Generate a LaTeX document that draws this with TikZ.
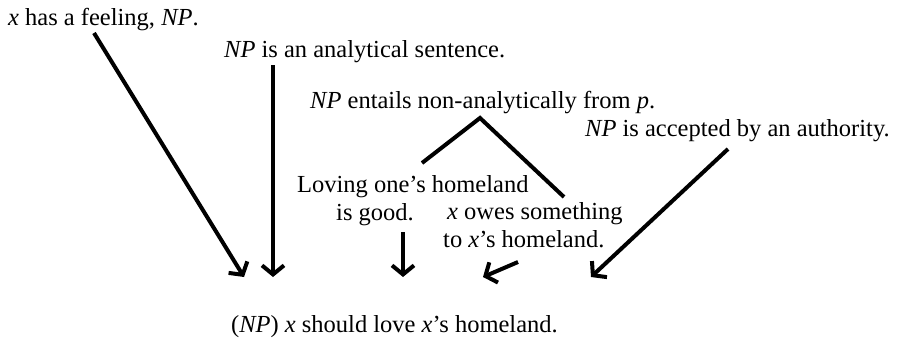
\documentclass[tikz,border=0pt]{standalone}
\usepackage{fontspec}
\setmainfont{Liberation Serif}
\usetikzlibrary{arrows.meta}
\begin{document}
\begin{tikzpicture}[x=1pt,y=-1pt,
  txt/.style={inner sep=0pt,anchor=base west,font=\fontsize{24.5}{28}\selectfont,align=left},
  link/.style={line width=4pt},
  arr/.style={line width=4pt,-{Straight Barb[length=9pt,width=22pt,line width=4pt]}}]
\useasboundingbox (0,0) rectangle (897,340);
\node[txt] (feel) at (8,25) {\textit{x} has a feeling, \textit{NP}.};
\node[txt] (anal) at (224,57) {\textit{NP} is an analytical sentence.};
\node[txt] (ent) at (310,108) {\textit{NP} entails non-analytically from \textit{p}.};
\node[txt] (auth) at (585,136) {\textit{NP} is accepted by an authority.};
\node[txt] (lov) at (297,220) {Loving one’s homeland\\\hspace*{39pt}is good.};
\node[txt] (owe) at (443,247) {\hspace*{4pt}\textit{x} owes something\\to \textit{x}’s homeland.};
\node[txt] (concl) at (231,332) {(\textit{NP}) \textit{x} should love \textit{x}’s homeland.};
\coordinate (a1s) at (94,33);
\coordinate (a1e) at (244,277);
\coordinate (a2s) at (273,65);
\coordinate (a2e) at (273,277);
\coordinate (vl) at (422,163);
\coordinate (vt) at (480,118);
\coordinate (vr) at (564,197);
\coordinate (a3s) at (403,232);
\coordinate (a3e) at (403,277);
\coordinate (a4s) at (518,262);
\coordinate (a4e) at (483,277);
\coordinate (a5s) at (728,149);
\coordinate (a5e) at (591,277);
\draw[arr] (a1s) -- (a1e);
\draw[arr] (a2s) -- (a2e);
\draw[link] (vl) -- (vt) -- (vr);
\draw[arr] (a3s) -- (a3e);
\draw[arr] (a4s) -- (a4e);
\draw[arr] (a5s) -- (a5e);
\end{tikzpicture}
\end{document}
